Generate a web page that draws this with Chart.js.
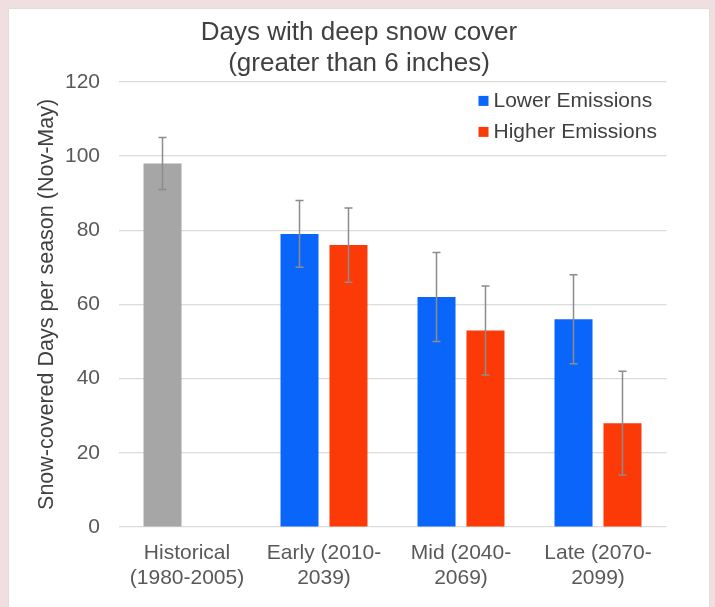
<!DOCTYPE html>
<html>
<head>
<meta charset="utf-8">
<script src="https://cdn.jsdelivr.net/npm/chart.js@4"></script>
<style>
  html, body { margin: 0; padding: 0; }
  body { width: 715px; height: 607px; background: #efdfe0; position: relative; overflow: hidden; }
  #panel { position: absolute; left: 9px; top: 9px; width: 700px; height: 598px; background: #fff; box-shadow: 0 0 1px #c9c0c0; }
  #c { display: block; }
</style>
</head>
<body>
<div id="panel"><canvas id="c" width="700" height="598"></canvas></div>
<script>
const categories = [
  ['Historical', '(1980-2005)'],
  ['Early (2010-', '2039)'],
  ['Mid (2040-', '2069)'],
  ['Late (2070-', '2099)']
];
const historical = [98];
const historicalErr = [7];
const lower = [79, 62, 56];
const lowerErr = [9, 12, 12];
const higher = [76, 53, 28];
const higherErr = [10, 12, 14];
const yTicks = [0, 20, 40, 60, 80, 100, 120];

const GRAY = '#a6a6a6';
const BLUE = '#0a66fa';
const RED = '#fc3a08';
const FONT = '"Liberation Sans", Arial, Helvetica, sans-serif';

Chart.defaults.font.family = FONT;
Chart.defaults.color = '#595959';

// error bars drawn on top of each bar
const errorBars = {
  id: 'errorBars',
  afterDatasetsDraw(chart) {
    const ctx = chart.ctx;
    const y = chart.scales.y;
    ctx.save();
    ctx.strokeStyle = '#8c8c8c';
    ctx.lineWidth = 1.5;
    chart.data.datasets.forEach((ds, i) => {
      const meta = chart.getDatasetMeta(i);
      meta.data.forEach((bar, j) => {
        const v = ds.data[j];
        const e = ds.errors[j];
        if (v == null || e == null) return;
        const top = y.getPixelForValue(v + e);
        const bot = y.getPixelForValue(v - e);
        ctx.beginPath();
        ctx.moveTo(bar.x, top); ctx.lineTo(bar.x, bot);
        ctx.moveTo(bar.x - 4, top); ctx.lineTo(bar.x + 4, top);
        ctx.moveTo(bar.x - 4, bot); ctx.lineTo(bar.x + 4, bot);
        ctx.stroke();
      });
    });
    ctx.restore();
  }
};

// legend inside the plot, top right
const innerLegend = {
  id: 'innerLegend',
  afterDraw(chart) {
    const ctx = chart.ctx;
    const a = chart.chartArea;
    const x = a.right - 188;
    let yy = a.top + 19;
    ctx.save();
    ctx.font = '21px ' + FONT;
    ctx.textBaseline = 'middle';
    chart.data.datasets.forEach(ds => {
      ctx.fillStyle = ds.legendColor;
      ctx.fillRect(x, yy - 5, 10, 10);
      ctx.fillStyle = '#404040';
      ctx.fillText(ds.label, x + 15, yy);
      yy += 31;
    });
    ctx.restore();
  }
};

new Chart(document.getElementById('c'), {
  type: 'bar',
  data: {
    labels: categories,
    datasets: [
      {
        label: 'Lower Emissions',
        data: historical.concat(lower),
        errors: historicalErr.concat(lowerErr),
        backgroundColor: [GRAY, BLUE, BLUE, BLUE],
        legendColor: BLUE
      },
      {
        label: 'Higher Emissions',
        data: [null].concat(higher),
        errors: [null].concat(higherErr),
        backgroundColor: RED,
        legendColor: RED
      }
    ]
  },
  options: {
    responsive: false,
    animation: false,
    categoryPercentage: 0.715,
    barPercentage: 0.776,
    layout: { padding: 0 },
    plugins: {
      legend: { display: false },
      tooltip: { enabled: false },
      title: {
        display: true,
        text: ['Days with deep snow cover', '(greater than 6 inches)'],
        color: '#404040',
        font: { size: 26, weight: 'normal', lineHeight: 1.19 },
        padding: { top: 8.5, bottom: 2.5 }
      }
    },
    scales: {
      x: {
        grid: { display: false, drawTicks: false },
        border: { display: false },
        ticks: { font: { size: 21 }, padding: 13.4, maxRotation: 0, autoSkip: false },
        afterFit: s => { s.height = 80; }
      },
      y: {
        min: 0,
        max: 120,
        afterBuildTicks: s => { s.ticks = yTicks.map(v => ({ value: v })); },
        grid: { color: '#dcdcdc', lineWidth: 1.2, drawTicks: false },
        border: { display: false },
        ticks: { font: { size: 21 }, padding: 18.5 },
        title: {
          display: true,
          text: 'Snow-covered Days per season (Nov-May)',
          font: { size: 21.5 },
          color: '#404040',
          padding: { top: 25.5, bottom: 0 }
        },
        afterFit: s => { s.width = 109.5; }
      },
      // empty right margin so the title stays centred on the panel
      spacer: {
        position: 'right',
        grid: { display: false, drawTicks: false },
        border: { display: false },
        ticks: { display: false },
        afterFit: s => { s.width = 42.5; }
      }
    }
  },
  plugins: [errorBars, innerLegend]
});
</script>
</body>
</html>
